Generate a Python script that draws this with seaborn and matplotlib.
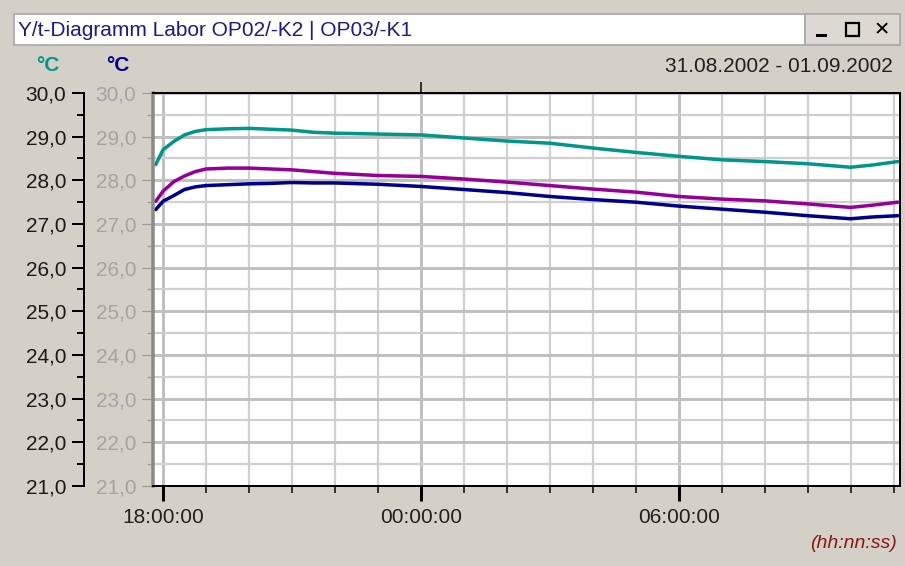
import matplotlib
matplotlib.use("Agg")
import matplotlib.pyplot as plt
import matplotlib.dates as mdates
from matplotlib.patches import Rectangle
from matplotlib.ticker import MultipleLocator, FuncFormatter
import pandas as pd
import seaborn as sns

# hours after 31.08.2002 18:00
hours = [-0.17, 0.0, 0.25, 0.5, 0.75, 1.0, 1.5, 2.0, 2.5, 3.0, 3.5, 4.0, 5.0, 6.0,
         7.0, 8.0, 9.0, 10.0, 11.0, 12.0, 13.0, 14.0, 15.0, 16.0, 16.5, 17.1]
teal = [28.36, 28.70, 28.89, 29.04, 29.12, 29.16, 29.18, 29.19, 29.17, 29.15, 29.10, 29.08,
        29.06, 29.04, 28.97, 28.90, 28.85, 28.74, 28.64, 28.55, 28.47, 28.43, 28.38, 28.30,
        28.35, 28.43]
purple = [27.52, 27.75, 27.97, 28.10, 28.20, 28.26, 28.28, 28.28, 28.26, 28.24, 28.20, 28.16,
          28.11, 28.09, 28.03, 27.96, 27.88, 27.80, 27.73, 27.63, 27.57, 27.53, 27.46, 27.38,
          27.43, 27.50]
navy = [27.33, 27.52, 27.65, 27.79, 27.85, 27.88, 27.90, 27.92, 27.93, 27.95, 27.94, 27.94,
        27.91, 27.86, 27.79, 27.72, 27.63, 27.56, 27.50, 27.41, 27.34, 27.27, 27.19, 27.12,
        27.16, 27.19]

series_names = ["OP02/-K2", "OP03/-K1 a", "OP03/-K1 b"]
colors = ["#00968c", "#960096", "#00008c"]

start = pd.Timestamp("2002-08-31 18:00")
times = list(start + pd.to_timedelta(hours, unit="h"))
df = pd.DataFrame({
    "time": times * 3,
    "value": teal + purple + navy,
    "series": [series_names[0]] * len(hours) + [series_names[1]] * len(hours) + [series_names[2]] * len(hours),
})

sns.set_style("white")
plt.rcParams["font.family"] = ["Liberation Sans", "DejaVu Sans"]

W, H = 905, 566
BG = "#d4d0c8"
FS = 15
fig = plt.figure(figsize=(W / 100, H / 100), dpi=100, facecolor=BG)
px = 72 / 100  # points per pixel

ax = fig.add_axes([153 / W, 1 - 486 / H, (900 - 153) / W, (486 - 93) / H])
ax.set_facecolor("white")
sns.lineplot(data=df, x="time", y="value", hue="series", palette=colors,
             linewidth=3.5 * px, legend=False, ax=ax)

ax.set_xlim(start - pd.Timedelta(minutes=14), start + pd.Timedelta(hours=17, minutes=9))
ax.set_ylim(21, 30)
ax.set_xlabel("")
ax.set_ylabel("")

comma = FuncFormatter(lambda v, p: f"{v:.1f}".replace(".", ","))
ax.yaxis.set_major_locator(MultipleLocator(1))
ax.yaxis.set_minor_locator(MultipleLocator(0.5))
ax.yaxis.set_major_formatter(comma)
ax.xaxis.set_major_locator(mdates.HourLocator(byhour=[0, 6, 18]))
ax.xaxis.set_minor_locator(mdates.HourLocator())
ax.xaxis.set_major_formatter(mdates.DateFormatter("%H:%M:%S"))

ax.grid(which="major", color="#c0c0c0", linewidth=3 * px)
ax.grid(which="minor", color="#cfcfcf", linewidth=2.2 * px)
ax.set_axisbelow(True)

for s in ["top", "right", "bottom"]:
    ax.spines[s].set_color("black")
    ax.spines[s].set_linewidth(2 * px)
ax.spines["left"].set_color("#8a8a8a")
ax.spines["left"].set_linewidth(3.5 * px)

ax.tick_params(axis="y", which="major", direction="out", length=11 * px, width=1.2 * px,
               color="#9a9a9a", labelcolor="#a4a4a4", labelsize=FS, pad=6 * px, left=True)
ax.tick_params(axis="y", which="minor", direction="out", length=6 * px, width=1.2 * px,
               color="#9a9a9a", left=True)
ax.tick_params(axis="x", which="major", direction="out", length=15 * px, width=3 * px,
               color="black", labelcolor="#202020", labelsize=FS, pad=7 * px, bottom=True)
ax.tick_params(axis="x", which="minor", direction="out", length=7 * px, width=1.5 * px,
               color="black", bottom=True)

# outer temperature axis
ax2 = ax.twinx()
ax2.set_ylim(21, 30)
ax2.grid(False)
for s in ["top", "right", "bottom"]:
    ax2.spines[s].set_visible(False)
ax2.spines["left"].set_visible(True)
ax2.spines["left"].set_position(("axes", (84 - 153) / (900 - 153)))
ax2.spines["left"].set_color("black")
ax2.spines["left"].set_linewidth(2 * px)
ax2.yaxis.set_ticks_position("left")
ax2.yaxis.set_major_locator(MultipleLocator(1))
ax2.yaxis.set_minor_locator(MultipleLocator(0.5))
ax2.yaxis.set_major_formatter(comma)
ax2.tick_params(axis="y", which="major", direction="out", length=12 * px, width=2 * px,
                color="black", labelcolor="#1a1a1a", labelsize=FS, pad=6 * px)
ax2.tick_params(axis="y", which="minor", direction="out", length=7 * px, width=2 * px,
                color="black")

# day-change marker on the top edge
top = ax.secondary_xaxis("top")
top.set_xticks([mdates.date2num(pd.Timestamp("2002-09-01 00:00"))])
top.set_xticklabels([])
top.spines["top"].set_visible(False)
top.tick_params(direction="out", length=11 * px, width=1.5 * px, color="black")


def ftext(x, y, s, **kw):
    fig.text(x / W, 1 - y / H, s, va="center", **kw)


# window title bar
fig.patches.append(Rectangle((14 / W, 1 - 45 / H), (805 - 14) / W, (45 - 14) / H,
                             transform=fig.transFigure, facecolor="white",
                             edgecolor="#a8a8a8", linewidth=1.2))
fig.patches.append(Rectangle((805 / W, 1 - 45 / H), (900 - 805) / W, (45 - 14) / H,
                             transform=fig.transFigure, facecolor="#dcd8d2",
                             edgecolor="#a8a8a8", linewidth=1.2))
ftext(18, 30, "Y/t-Diagramm Labor OP02/-K2 | OP03/-K1", color="#1a1a8c", fontsize=FS)
fig.patches.append(Rectangle((816 / W, 1 - 37 / H), 11 / W, 3 / H,
                             transform=fig.transFigure, facecolor="black", edgecolor="none"))
fig.patches.append(Rectangle((846 / W, 1 - 36 / H), 13 / W, 13 / H,
                             transform=fig.transFigure, facecolor="none",
                             edgecolor="black", linewidth=1.6))
ftext(882, 30, "✕", color="black", fontsize=14, fontweight="bold", ha="center",
      family=["DejaVu Sans"])

ftext(48, 66, "°C", color=colors[0], fontsize=FS, fontweight="bold", ha="center")
ftext(118, 66, "°C", color=colors[2], fontsize=FS, fontweight="bold", ha="center")
ftext(893, 67, "31.08.2002 - 01.09.2002", color="#202020", fontsize=FS, ha="right")
ftext(897, 543, "(hh:nn:ss)", color="#8b1414", fontsize=14, style="italic", ha="right")

fig.savefig("out.png", dpi=100, facecolor=BG)
